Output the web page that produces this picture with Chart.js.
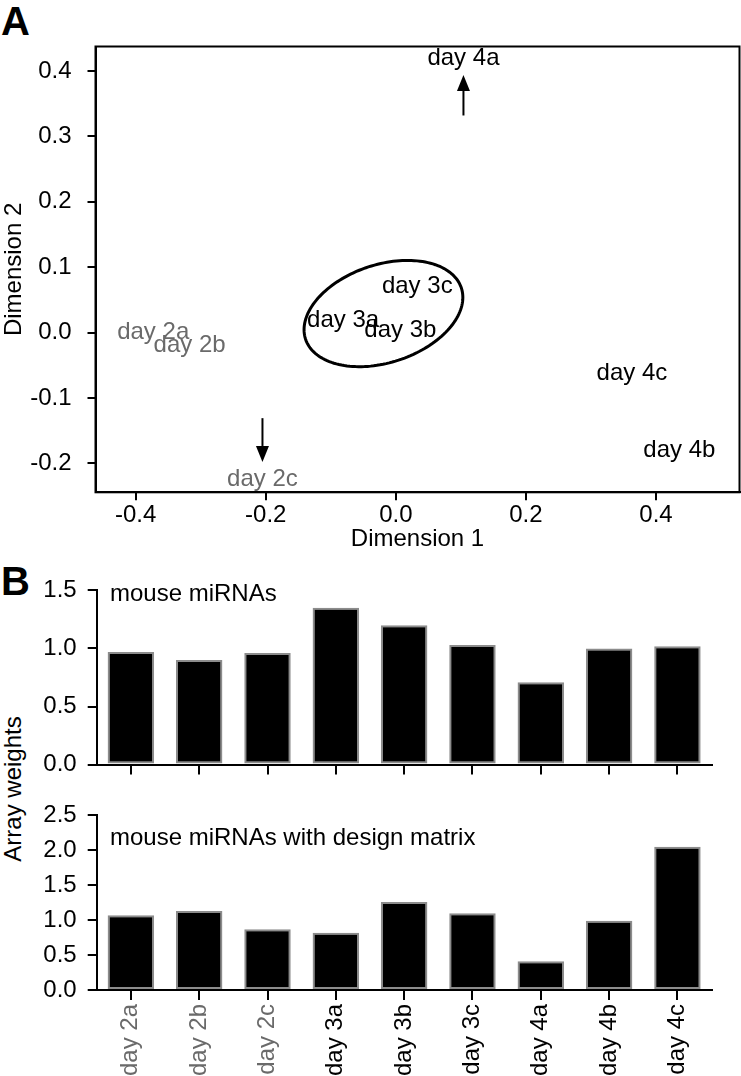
<!DOCTYPE html>
<html>
<head>
<meta charset="utf-8">
<script src="https://cdn.jsdelivr.net/npm/chart.js@4.4.1/dist/chart.umd.min.js"></script>
<style>
    body { margin: 0; background: #fff; width: 741px; height: 1076px; position: relative; overflow: hidden;
           font-family: 'Liberation Sans', Arial, Helvetica, sans-serif; }
    canvas { position: absolute; left: 0; }
    .panel { position: absolute; left: 1px; font-size: 40px; line-height: 40px; font-weight: bold; color: #000; }
    .ylab { position: absolute; width: 300px; height: 28px; line-height: 28px; font-size: 24px; text-align: center;
            transform: rotate(-90deg); color: #000; }
</style>
</head>
<body>
<div class="panel" style="top:1px">A</div>
<div class="panel" style="top:561px">B</div>
<div class="ylab" style="left:-137px; top:775px">Array weights</div>

<canvas id="mdsChart" width="741" height="560" style="top:0"></canvas>
<canvas id="plainChart" width="741" height="225" style="top:565px"></canvas>
<canvas id="designChart" width="741" height="286" style="top:790px"></canvas>

<script>
// Arrays (same order in both panels)
const arrayLabels = ['day 2a', 'day 2b', 'day 2c', 'day 3a', 'day 3b', 'day 3c', 'day 4a', 'day 4b', 'day 4c'];
const labelColors = ['#6a6a6a', '#6a6a6a', '#6a6a6a', '#000', '#000', '#000', '#000', '#000', '#000'];

// Panel A: MDS coordinates
const dim1 = [-0.373, -0.317, -0.205, -0.081, 0.007, 0.033, 0.104, 0.436, 0.363];
const dim2 = [0.000, -0.020, -0.224, 0.019, 0.003, 0.071, 0.420, -0.181, -0.063];
const dim1Ticks = [-0.4, -0.2, 0.0, 0.2, 0.4];
const dim2Ticks = [-0.2, -0.1, 0.0, 0.1, 0.2, 0.3, 0.4];

// arrows and the ellipse round the day 3 group, in data units
const arrowX = [0.104, -0.205];
const arrowFrom = [0.332, -0.131];
const arrowTo = [0.394, -0.198];
const ellipseCentre = [-0.019, 0.029];
const ellipseRadii = [0.126, 0.075];
const ellipseAngle = 18;

// Panel B: array weights
const weightsPlain = [0.97, 0.90, 0.96, 1.35, 1.20, 1.03, 0.71, 1.00, 1.02];
const weightsDesign = [1.07, 1.13, 0.87, 0.82, 1.26, 1.10, 0.41, 0.99, 2.05];
const plainTicks = [0.0, 0.5, 1.0, 1.5];
const designTicks = [0.0, 0.5, 1.0, 1.5, 2.0, 2.5];

Chart.defaults.font.family = "'Liberation Sans', Arial, Helvetica, sans-serif";
Chart.defaults.font.size = 24;
Chart.defaults.color = '#000';

// Draw frame, ellipse, arrows and the text labels of panel A
const mdsDecor = {
    id: 'mdsDecor',
    afterDatasetsDraw(chart) {
        const { ctx, chartArea: a, scales: { x, y } } = chart;
        ctx.save();
        ctx.strokeStyle = '#000';
        ctx.lineWidth = 2;
        ctx.strokeRect(a.left, a.top, a.width, a.height);

        // ellipse
        const th = ellipseAngle * Math.PI / 180;
        ctx.beginPath();
        for (let k = 0; k <= 160; k++) {
            const t = k / 160 * 2 * Math.PI;
            const dx = ellipseRadii[0] * Math.cos(t) * Math.cos(th) - ellipseRadii[1] * Math.sin(t) * Math.sin(th);
            const dy = ellipseRadii[0] * Math.cos(t) * Math.sin(th) + ellipseRadii[1] * Math.sin(t) * Math.cos(th);
            const px = x.getPixelForValue(ellipseCentre[0] + dx);
            const py = y.getPixelForValue(ellipseCentre[1] + dy);
            if (k === 0) ctx.moveTo(px, py); else ctx.lineTo(px, py);
        }
        ctx.closePath();
        ctx.lineWidth = 3;
        ctx.stroke();

        // arrows
        ctx.fillStyle = '#000';
        arrowX.forEach((ax, i) => {
            const px = x.getPixelForValue(ax);
            const y1 = y.getPixelForValue(arrowFrom[i]);
            const y2 = y.getPixelForValue(arrowTo[i]);
            const dir = Math.sign(y2 - y1);
            const head = 16;
            ctx.beginPath();
            ctx.moveTo(px, y1);
            ctx.lineTo(px, y2 - dir * head);
            ctx.lineWidth = 2;
            ctx.stroke();
            ctx.beginPath();
            ctx.moveTo(px, y2);
            ctx.lineTo(px - 6.5, y2 - dir * head);
            ctx.lineTo(px + 6.5, y2 - dir * head);
            ctx.closePath();
            ctx.fill();
        });

        // sample labels
        ctx.font = "24px 'Liberation Sans', Arial, sans-serif";
        ctx.textAlign = 'center';
        ctx.textBaseline = 'middle';
        arrayLabels.forEach((label, i) => {
            ctx.fillStyle = labelColors[i];
            ctx.fillText(label, x.getPixelForValue(dim1[i]), y.getPixelForValue(dim2[i]));
        });
        ctx.restore();
    }
};

new Chart(document.getElementById('mdsChart'), {
    type: 'scatter',
    data: {
        datasets: [{
            data: dim1.map((v, i) => ({ x: v, y: dim2[i] })),
            pointRadius: 0
        }]
    },
    options: {
        responsive: false,
        animation: false,
        layout: { padding: { top: 46.5, right: 1.5, left: 0, bottom: 0 } },
        plugins: { legend: { display: false }, tooltip: { enabled: false } },
        scales: {
            x: {
                type: 'linear',
                min: -0.4617,
                max: 0.5284,
                afterBuildTicks: s => { s.ticks = dim1Ticks.map(v => ({ value: v })); },
                afterFit: s => { s.height = 67.7; },
                ticks: { callback: v => v.toFixed(1), padding: 1, maxRotation: 0 },
                grid: { drawOnChartArea: false, tickLength: 8, lineWidth: 2, color: '#000' },
                border: { display: true, color: '#000', width: 2 },
                title: { display: true, text: 'Dimension 1', padding: { top: 0, bottom: 6.6 } }
            },
            y: {
                type: 'linear',
                min: -0.2444,
                max: 0.4375,
                afterBuildTicks: s => { s.ticks = dim2Ticks.map(v => ({ value: v })); },
                afterFit: s => { s.width = 95.5; },
                ticks: { callback: v => v.toFixed(1), padding: 16 },
                grid: { drawOnChartArea: false, tickLength: 8, lineWidth: 2, color: '#000' },
                border: { display: true, color: '#000', width: 2 },
                title: { display: true, text: 'Dimension 2', padding: { top: 0, bottom: 0 } }
            }
        }
    },
    plugins: [mdsDecor]
});

// Bar chart of array weights, with the note text inside the plot
function weightChart(canvasId, values, yTicks, yMax, note, noteOffset, padTop, xAxisHeight, showLabels) {
    return new Chart(document.getElementById(canvasId), {
        type: 'bar',
        data: {
            labels: arrayLabels,
            datasets: [{
                data: values,
                backgroundColor: '#000',
                borderColor: '#8c8c8c',
                borderWidth: 2,
                borderSkipped: false,
                categoryPercentage: 1,
                barPercentage: 0.68
            }]
        },
        options: {
            responsive: false,
            animation: false,
            layout: { padding: { top: padTop, right: 29.4, left: 0, bottom: 0 } },
            plugins: { legend: { display: false }, tooltip: { enabled: false } },
            scales: {
                x: {
                    offset: true,
                    afterFit: s => { s.height = xAxisHeight; },
                    grid: { offset: false, drawOnChartArea: false, tickLength: 10, lineWidth: 2, color: '#000' },
                    border: { color: '#000', width: 2 },
                    ticks: {
                        display: showLabels,
                        autoSkip: false,
                        minRotation: 90,
                        maxRotation: 90,
                        padding: 4,
                        color: c => labelColors[c.index]
                    }
                },
                y: {
                    min: 0,
                    max: yMax,
                    afterBuildTicks: s => { s.ticks = yTicks.map(v => ({ value: v })); },
                    afterFit: s => { s.width = 96.7; },
                    ticks: { callback: v => v.toFixed(1), padding: 11 },
                    grid: { drawOnChartArea: false, tickLength: 9, lineWidth: 2, color: '#000' },
                    border: { color: '#000', width: 2 }
                }
            }
        },
        plugins: [{
            id: 'note',
            afterDraw(chart) {
                const { ctx, chartArea: a } = chart;
                ctx.save();
                ctx.font = "24px 'Liberation Sans', Arial, sans-serif";
                ctx.fillStyle = '#000';
                ctx.textAlign = 'left';
                ctx.textBaseline = 'alphabetic';
                ctx.fillText(note, a.left + 13.3, a.top + noteOffset);
                ctx.restore();
            }
        }]
    });
}

weightChart('plainChart', weightsPlain, plainTicks, 1.5, 'mouse miRNAs', 10.7, 24.3, 17.3, false);
weightChart('designChart', weightsDesign, designTicks, 2.5, 'mouse miRNAs with design matrix', 29.8, 16.7, 86, true);
</script>
</body>
</html>
